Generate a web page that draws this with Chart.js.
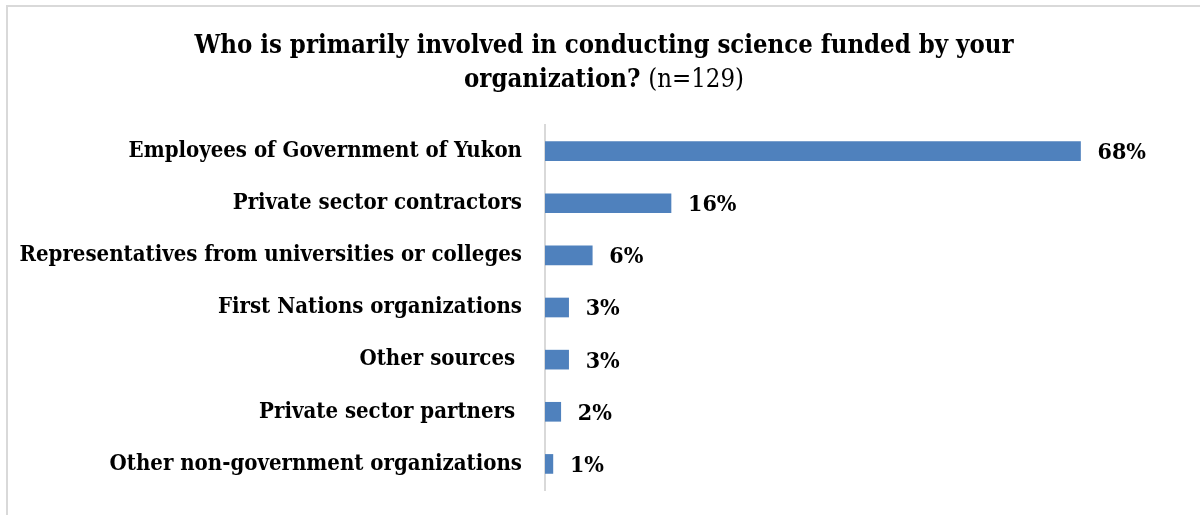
<!DOCTYPE html>
<html>
<head>
<meta charset="utf-8">
<script src="https://cdn.jsdelivr.net/npm/chart.js@4.4.1/dist/chart.umd.min.js"></script>
<style>
  html, body { margin: 0; padding: 0; background: #fff; }
  #wrap { position: relative; width: 1200px; height: 515px; }
</style>
</head>
<body>
<div id="wrap"><canvas id="myChart" width="1200" height="515"></canvas></div>
<script>
const categories = [
  "Employees of Government of Yukon",
  "Private sector contractors",
  "Representatives from universities or colleges",
  "First Nations organizations",
  "Other sources ",
  "Private sector partners ",
  "Other non-government organizations"
];
const percents = [68, 16, 6, 3, 3, 2, 1];
const titleBold = ["Who is primarily involved in conducting science funded by your", "organization? "];
const titleNormal = "(n=129)";

const FAMILY = "'DejaVu Serif Condensed', 'DejaVu Serif', serif";

// border around the chart + title drawn by hand (mixed weights)
const frame = {
  id: "frame",
  beforeDraw(chart) {
    const c = chart.ctx;
    c.save();
    c.strokeStyle = "#d9d9d9";
    c.lineWidth = 2;
    c.strokeRect(7, 6, 1400, 700);
    c.restore();
  },
  afterDraw(chart) {
    const c = chart.ctx;
    const cx = 604;
    c.save();
    c.fillStyle = "#000";
    c.textBaseline = "alphabetic";
    c.font = "bold 25.5px " + FAMILY;
    c.textAlign = "center";
    c.fillText(titleBold[0], cx, 53);
    // second line: bold part + regular part
    const w1 = c.measureText(titleBold[1]).width;
    c.font = "25.5px " + FAMILY;
    const w2 = c.measureText(titleNormal).width;
    let x = cx - (w1 + w2) / 2;
    c.textAlign = "left";
    c.font = "bold 25.5px " + FAMILY;
    c.fillText(titleBold[1], x, 87);
    c.font = "25.5px " + FAMILY;
    c.fillText(titleNormal, x + w1, 87);
    c.restore();
  }
};

// value labels at the end of each bar
const valueLabels = {
  id: "valueLabels",
  afterDatasetsDraw(chart) {
    const c = chart.ctx;
    const meta = chart.getDatasetMeta(0);
    c.save();
    c.font = "bold 23px " + FAMILY;
    c.fillStyle = "#000";
    c.textAlign = "left";
    c.textBaseline = "middle";
    meta.data.forEach((bar, i) => {
      c.fillText(percents[i] + "%", bar.x + 17, bar.y + 2);
    });
    c.restore();
  }
};

const ctx = document.getElementById("myChart");

new Chart(ctx, {
  type: "bar",
  data: {
    labels: categories,
    datasets: [{
      data: percents,
      backgroundColor: "#4f81bd",
      borderWidth: 0,
      barThickness: 19
    }]
  },
  options: {
    indexAxis: "y",
    responsive: false,
    animation: false,
    layout: { padding: { top: 125, bottom: 25, left: 0, right: 25 } },
    plugins: {
      legend: { display: false },
      title: { display: false },
      tooltip: { enabled: false }
    },
    scales: {
      x: {
        display: false,
        min: 0,
        max: 80
      },
      y: {
        afterFit(scale) {
          scale.width = 545;
          scale.paddingTop = 0;
          scale.paddingBottom = 0;
        },
        grid: { display: false, drawTicks: false },
        border: { display: true, color: "#d9d9d9", width: 2 },
        ticks: {
          color: "#000",
          padding: 23,
          font: { family: FAMILY, size: 22, weight: "bold" }
        }
      }
    }
  },
  plugins: [frame, valueLabels]
});
</script>
</body>
</html>
